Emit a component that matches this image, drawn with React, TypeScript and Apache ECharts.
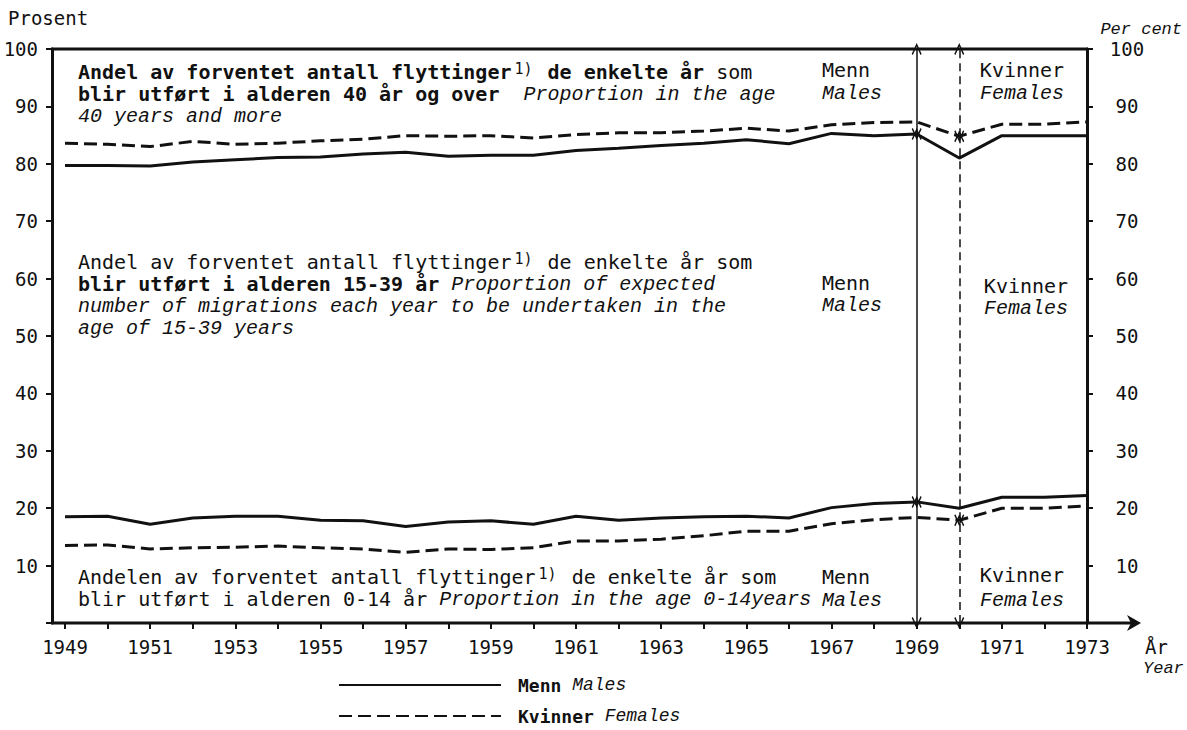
import React, { useEffect, useRef } from 'react';
import * as echarts from 'echarts';

const years = [1949, 1950, 1951, 1952, 1953, 1954, 1955, 1956, 1957, 1958, 1959, 1960, 1961, 1962, 1963, 1964, 1965, 1966, 1967, 1968, 1969, 1970, 1971, 1972, 1973];
const labelYears = [1949, 1951, 1953, 1955, 1957, 1959, 1961, 1963, 1965, 1967, 1969, 1971, 1973];
const males0to14 = [18.5, 18.6, 17.2, 18.3, 18.6, 18.6, 17.9, 17.8, 16.8, 17.6, 17.8, 17.2, 18.6, 17.9, 18.3, 18.5, 18.6, 18.3, 20.1, 20.8, 21.1, 20.0, 21.9, 21.9, 22.2];
const females0to14 = [13.5, 13.6, 12.9, 13.1, 13.2, 13.4, 13.1, 12.9, 12.3, 12.9, 12.8, 13.1, 14.3, 14.3, 14.6, 15.2, 16.0, 16.0, 17.3, 18.0, 18.4, 17.9, 20.0, 20.0, 20.4];
const males0to39 = [79.7, 79.7, 79.6, 80.3, 80.7, 81.1, 81.2, 81.7, 82.0, 81.3, 81.5, 81.5, 82.3, 82.7, 83.2, 83.6, 84.2, 83.5, 85.3, 84.9, 85.2, 81.0, 84.9, 84.9, 84.9];
const females0to39 = [83.6, 83.4, 83.0, 83.9, 83.4, 83.6, 84.0, 84.3, 84.9, 84.8, 84.9, 84.5, 85.1, 85.4, 85.4, 85.7, 86.2, 85.7, 86.8, 87.2, 87.3, 84.8, 86.9, 86.9, 87.3];

const MONO = '"DejaVu Sans Mono", monospace';
const ITAL = '"Liberation Mono", monospace';
const INK = '#111';

export default function App() {
  const ref = useRef<HTMLDivElement>(null);
  useEffect(() => {
    document.body.style.margin = '0';
    const chart = echarts.init(ref.current!, null, { renderer: 'svg' });
    const pair = (a: number[]) => years.map((y, i) => [y, a[i]]);
    const arrowSym = 'path://M0,0L6,11L4.6,12L0,3.6L-4.6,12L-6,11Z';
    const seg = (x: number, a: number, b: number) => [{ coord: [x, a] }, { coord: [x, b] }];
    const i69 = years.indexOf(1969);
    const i70 = years.indexOf(1970);

    const rich: any = {
      n: { fontFamily: MONO, fontSize: 20, color: INK, lineHeight: 22 },
      b: { fontFamily: MONO, fontSize: 20, fontWeight: 'bold', color: INK, lineHeight: 22 },
      i: { fontFamily: ITAL, fontSize: 20, fontStyle: 'italic', color: INK, lineHeight: 22 },
      s: { fontFamily: MONO, fontSize: 15, color: INK, lineHeight: 12, verticalAlign: 'top', padding: [0, 3, 0, 3] },
    };

    const axisFont = { fontFamily: MONO, fontSize: 19, color: INK };

    chart.setOption({
      animation: false,
      grid: { left: 65, right: 100, top: 49, bottom: 107, containLabel: false, outerBoundsMode: 'none' },
      legend: {
        left: 338,
        top: 676,
        padding: 0,
        orient: 'vertical',
        itemWidth: 162,
        itemHeight: 20,
        itemGap: 13,
        itemStyle: { opacity: 0 },
        data: ['Menn', 'Kvinner'],
        formatter: (n: string) => (n === 'Menn' ? '{b|Menn} {i|Males}' : '{b|Kvinner} {i|Females}'),
        textStyle: {
          fontFamily: MONO,
          fontSize: 18,
          color: INK,
          rich: {
            b: { fontFamily: MONO, fontSize: 18, fontWeight: 'bold', color: INK, padding: [0, 0, 0, 12], lineHeight: 20 },
            i: { fontFamily: ITAL, fontSize: 18, fontStyle: 'italic', color: INK, lineHeight: 20 },
          },
        },
      },
      xAxis: {
        type: 'value',
        min: 1949,
        max: 1973,
        interval: 1,
        axisLine: { show: false },
        axisTick: { show: true, length: 6, lineStyle: { width: 2, color: INK } },
        splitLine: { show: false },
        axisLabel: {
          ...axisFont,
          margin: 14,
          formatter: (v: number) => (labelYears.includes(v) ? String(v) : ''),
        },
      },
      yAxis: [
        {
          type: 'value',
          min: 0,
          max: 100,
          interval: 10,
          position: 'left',
          offset: 13,
          axisLine: { show: true, lineStyle: { width: 3, color: INK } },
          axisTick: { show: true, length: 6, lineStyle: { width: 2, color: INK } },
          splitLine: { show: false },
          axisLabel: { ...axisFont, margin: 14, formatter: (v: number) => (v === 0 ? '' : String(v)) },
        },
        {
          type: 'value',
          min: 0,
          max: 100,
          interval: 10,
          position: 'right',
          axisLine: { show: true, lineStyle: { width: 3, color: INK } },
          axisTick: { show: true, length: 6, lineStyle: { width: 2, color: INK } },
          splitLine: { show: false },
          axisLabel: { ...axisFont, margin: 40, align: 'center', formatter: (v: number) => (v === 0 ? '' : String(v)) },
        },
      ],
      series: [
        {
          type: 'line',
          name: 'Menn',
          data: pair(males0to14),
          symbol: 'none',
          color: INK,
          lineStyle: { width: 3, color: INK, type: 'solid' },
          markLine: {
            silent: true,
            symbol: [arrowSym, arrowSym],
            symbolSize: [10, 12],
            label: { show: false },
            lineStyle: { type: 'solid', width: 1.5, color: INK },
            data: [
              seg(1969, 0, males0to14[i69]),
              seg(1969, males0to14[i69], males0to39[i69]),
              seg(1969, males0to39[i69], 100),
            ],
          },
        },
        {
          type: 'line',
          name: 'Menn',
          data: pair(males0to39),
          symbol: 'none',
          color: INK,
          lineStyle: { width: 3, color: INK, type: 'solid' },
        },
        {
          type: 'line',
          name: 'Kvinner',
          data: pair(females0to14),
          symbol: 'none',
          color: INK,
          lineStyle: { width: 3, color: INK, type: [13, 6] },
          markLine: {
            silent: true,
            symbol: [arrowSym, arrowSym],
            symbolSize: [10, 12],
            label: { show: false },
            lineStyle: { type: [8, 5], width: 1.5, color: INK },
            data: [
              seg(1970, 0, females0to14[i70]),
              seg(1970, females0to14[i70], females0to39[i70]),
              seg(1970, females0to39[i70], 100),
            ],
          },
        },
        {
          type: 'line',
          name: 'Kvinner',
          data: pair(females0to39),
          symbol: 'none',
          color: INK,
          lineStyle: { width: 3, color: INK, type: [13, 6] },
        },
      ],
    });

    const p0 = chart.convertToPixel({ xAxisIndex: 0, yAxisIndex: 0 }, [1949, 0]) as number[];
    const p1 = chart.convertToPixel({ xAxisIndex: 0, yAxisIndex: 0 }, [1973, 100]) as number[];
    const boxLeft = p0[0] - 13;
    const x0 = p0[0];
    const yb = p0[1];
    const xr = p1[0];
    const yt = p1[1];
    const tip = xr + 54;

    const txt = (x: number, y: number, text: string, extra: any = {}) => ({
      type: 'text',
      x,
      y,
      silent: true,
      style: {
        text,
        fontFamily: MONO,
        fontSize: 20,
        fill: INK,
        rich,
        align: 'left',
        verticalAlign: 'middle',
        ...extra,
      },
    });
    const lab = (x: number, y: number, text: string, italic: boolean) => ({
      type: 'text',
      x,
      y,
      silent: true,
      style: {
        text,
        fontFamily: italic ? ITAL : MONO,
        fontStyle: italic ? 'italic' : 'normal',
        fontSize: 20,
        fill: INK,
        align: 'center',
        verticalAlign: 'middle',
      },
    });

    chart.setOption({
      graphic: [
        { type: 'line', silent: true, shape: { x1: boxLeft - 1, y1: yt, x2: xr + 1, y2: yt }, style: { stroke: INK, lineWidth: 3 } },
        { type: 'line', silent: true, shape: { x1: boxLeft - 1, y1: yb, x2: tip - 6, y2: yb }, style: { stroke: INK, lineWidth: 3 } },
        { type: 'polygon', silent: true, shape: { points: [[tip, yb], [tip - 14, yb - 8], [tip - 10, yb], [tip - 14, yb + 8]] }, style: { fill: INK } },
        {
          type: 'text', x: x0 + 13, y: 61, silent: true,
          style: {
            text: '{b|Andel av forventet antall flyttinger}{s|1)}{b| de enkelte år} {n|som}\n{b|blir utført i alderen 40 år og over}  {i|Proportion in the age}\n{i|40 years and more}',
            fontFamily: MONO, fontSize: 20, fill: INK, rich, lineHeight: 22, align: 'left', verticalAlign: 'top',
          },
        },
        {
          type: 'text', x: x0 + 13, y: 251, silent: true,
          style: {
            text: '{n|Andel av forventet antall flyttinger}{s|1)}{n| de enkelte år som}\n{b|blir utført i alderen 15-39 år} {i|Proportion of expected}\n{i|number of migrations each year to be undertaken in the}\n{i|age of 15-39 years}',
            fontFamily: MONO, fontSize: 20, fill: INK, rich, lineHeight: 22, align: 'left', verticalAlign: 'top',
          },
        },
        {
          type: 'text', x: x0 + 13, y: 566, silent: true,
          style: {
            text: '{n|Andelen av forventet antall flyttinger}{s|1)}{n| de enkelte år som}\n{n|blir utført i alderen 0-14 år} {i|Proportion in the age 0-14years}',
            fontFamily: MONO, fontSize: 20, fill: INK, rich, lineHeight: 22, align: 'left', verticalAlign: 'top',
          },
        },
        lab(846, 70, 'Menn', false),
        lab(852, 93, 'Males', true),
        lab(846, 283, 'Menn', false),
        lab(852, 305, 'Males', true),
        lab(846, 577, 'Menn', false),
        lab(852, 600, 'Males', true),
        lab(1022, 70, 'Kvinner', false),
        lab(1022, 93, 'Females', true),
        lab(1026, 286, 'Kvinner', false),
        lab(1026, 308, 'Females', true),
        lab(1022, 575, 'Kvinner', false),
        lab(1022, 600, 'Females', true),
        txt(8, 18, 'Prosent', { fontSize: 19 }),
        { type: 'text', x: 1182, y: 29, silent: true, style: { text: 'Per cent', fontFamily: ITAL, fontStyle: 'italic', fontSize: 17, fill: INK, align: 'right', verticalAlign: 'middle' } },
        txt(1145, 647, 'År', { fontSize: 19 }),
        { type: 'text', x: 1143, y: 668, silent: true, style: { text: 'Year', fontFamily: ITAL, fontStyle: 'italic', fontSize: 17, fill: INK, align: 'left', verticalAlign: 'middle' } },
      ],
    });

    return () => chart.dispose();
  }, []);
  return <div ref={ref} style={{ width: 1187, height: 730 }} />;
}
